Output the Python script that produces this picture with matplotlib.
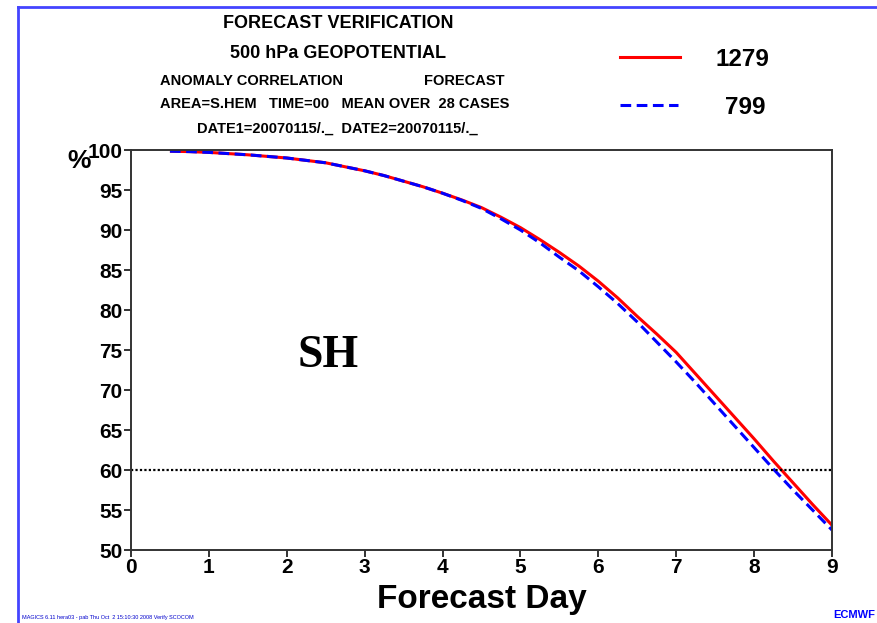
import matplotlib
matplotlib.use("Agg")
import matplotlib.pyplot as plt
from matplotlib.lines import Line2D

# Anomaly correlation, 500 hPa geopotential, S.HEM (values read every 6 h)
days = [0.5, 0.75, 1.0, 1.25, 1.5, 1.75, 2.0, 2.25, 2.5, 2.75, 3.0, 3.25, 3.5,
        3.75, 4.0, 4.25, 4.5, 4.75, 5.0, 5.25, 5.5, 5.75, 6.0, 6.25, 6.5,
        6.75, 7.0, 7.25, 7.5, 7.75, 8.0, 8.25, 8.5, 8.75, 9.0]
acc_1279 = [99.85, 99.8, 99.7, 99.55, 99.4, 99.2, 99.0, 98.7, 98.4, 97.9, 97.4,
            96.8, 96.1, 95.4, 94.6, 93.75, 92.8, 91.6, 90.3, 88.8, 87.2, 85.5,
            83.6, 81.5, 79.2, 77.0, 74.7, 72.0, 69.3, 66.6, 63.9, 61.1, 58.4,
            55.7, 53.1]
acc_799 = [99.85, 99.8, 99.7, 99.55, 99.4, 99.2, 99.0, 98.7, 98.4, 97.9, 97.4,
           96.8, 96.1, 95.4, 94.6, 93.7, 92.7, 91.4, 90.0, 88.4, 86.6, 84.9,
           82.9, 80.8, 78.5, 76.0, 73.5, 70.9, 68.2, 65.5, 62.8, 60.1, 57.5,
           55.0, 52.5]
labels = ["1279", "799"]
xticks = list(range(0, 10))
yticks = list(range(50, 101, 5))
threshold = 60

plt.rcParams["font.family"] = ["Liberation Sans", "DejaVu Sans"]

fig = plt.figure(figsize=(8.78, 6.23), dpi=100)
ax = fig.add_axes([131 / 878, 73 / 623, 701 / 878, 400 / 623])

ax.plot(days, acc_1279, color="red", lw=2.2, solid_capstyle="butt")
ax.plot(days, acc_799, color="blue", lw=2.2, linestyle=(0, (3.5, 1.8)))
ax.axhline(threshold, color="black", lw=1.6, linestyle=(0, (1, 1)))

ax.set_xlim(0, 9)
ax.set_ylim(50, 100)
ax.set_xticks(xticks)
ax.set_yticks(yticks)
for s in ax.spines.values():
    s.set_color("#333333")
    s.set_linewidth(1.4)
ax.tick_params(direction="out", length=5, width=1.4, color="#333333",
               labelsize=15, pad=1)
for lbl in ax.get_xticklabels() + ax.get_yticklabels():
    lbl.set_fontweight("bold")

ax.set_xlabel("Forecast Day", fontsize=24, fontweight="bold", labelpad=5)
ax.text(-0.66, 98.6, "%", fontsize=19, fontweight="bold", ha="center", va="center")
ax.text(2.53, 74.2, "SH", fontsize=33, fontweight="bold", family="Liberation Serif",
        ha="center", va="center")

# header text
def ftext(x, y, s, **kw):
    fig.text(x / 878, 1 - y / 623, s, **kw)

ftext(338, 24, "FORECAST VERIFICATION", fontsize=13, fontweight="bold", ha="center", va="center")
ftext(338, 54, "500 hPa GEOPOTENTIAL", fontsize=13, fontweight="bold", ha="center", va="center")
ftext(160, 81, "ANOMALY CORRELATION", fontsize=10.5, fontweight="bold", ha="left", va="center")
ftext(505, 81, "FORECAST", fontsize=10.5, fontweight="bold", ha="right", va="center")
ftext(160, 104, "AREA=S.HEM   TIME=00   MEAN OVER  28 CASES", fontsize=10.5,
      fontweight="bold", ha="left", va="center")
ftext(337, 129, "DATE1=20070115/._  DATE2=20070115/._", fontsize=10.5,
      fontweight="bold", ha="center", va="center")

# legend
fig.add_artist(Line2D([620 / 878, 680 / 878], [1 - 57 / 623] * 2, color="red", lw=2.2))
fig.add_artist(Line2D([620 / 878, 678 / 878], [1 - 105 / 623] * 2, color="blue", lw=2.2,
                      linestyle=(0, (3.5, 1.8))))
ftext(742, 59, labels[0], fontsize=17.5, fontweight="bold", ha="center", va="center")
ftext(745, 108, labels[1], fontsize=17.5, fontweight="bold", ha="center", va="center")

# page frame
fig.add_artist(Line2D([18 / 878, 1], [1 - 7 / 623] * 2, color="#4444ff", lw=2))
fig.add_artist(Line2D([18 / 878] * 2, [0, 1 - 7 / 623], color="#4444ff", lw=2))

ftext(22, 617, "MAGICS 6.11 hera03 - pab Thu Oct  2 15:10:30 2008 Verify SCOCOM",
      fontsize=4, color="#0000cc", ha="left", va="center")
ftext(875, 615, "ECMWF", fontsize=8, fontweight="bold", color="#0000ff",
      ha="right", va="center")

fig.savefig("out.png", dpi=100)
